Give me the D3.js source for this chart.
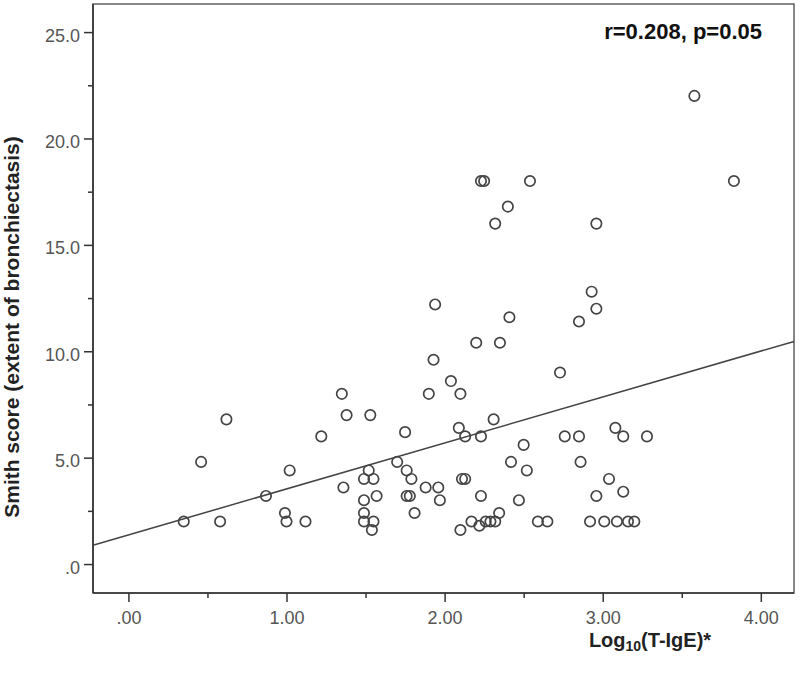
<!DOCTYPE html>
<html>
<head>
<meta charset="utf-8">
<style>
  body { margin: 0; background: #fff; }
  svg text { font-family: "Liberation Sans", Arial, sans-serif; }
</style>
</head>
<body>
<script src="https://cdn.jsdelivr.net/npm/d3@7"></script>
<script>
// values
var logIgE = [0.35, 0.46, 0.58, 0.62, 0.87, 0.99, 1.00, 1.02, 1.12, 1.22,
              1.35, 1.36, 1.38, 1.49, 1.49, 1.49, 1.49, 1.52, 1.53, 1.54,
              1.55, 1.55, 1.57, 1.70, 1.75, 1.76, 1.76, 1.78, 1.79, 1.81,
              1.88, 1.90, 1.93, 1.94, 1.96, 1.97, 2.04, 2.09, 2.10, 2.10,
              2.11, 2.13, 2.13, 2.17, 2.20, 2.22, 2.23, 2.23, 2.23, 2.25,
              2.26, 2.29, 2.31, 2.32, 2.32, 2.345, 2.35, 2.40, 2.41, 2.42,
              2.47, 2.50, 2.52, 2.54, 2.59, 2.65, 2.73, 2.76, 2.85, 2.85,
              2.86, 2.92, 2.93, 2.96, 2.96, 2.96, 3.01, 3.04, 3.08, 3.09,
              3.13, 3.13, 3.16, 3.20, 3.28, 3.58, 3.83];
var smithScore = [2.0, 4.8, 2.0, 6.8, 3.2, 2.4, 2.0, 4.4, 2.0, 6.0,
                  8.0, 3.6, 7.0, 4.0, 3.0, 2.4, 2.0, 4.4, 7.0, 1.6,
                  4.0, 2.0, 3.2, 4.8, 6.2, 4.4, 3.2, 3.2, 4.0, 2.4,
                  3.6, 8.0, 9.6, 12.2, 3.6, 3.0, 8.6, 6.4, 8.0, 1.6,
                  4.0, 4.0, 6.0, 2.0, 10.4, 1.8, 6.0, 3.2, 18.0, 18.0,
                  2.0, 2.0, 6.8, 2.0, 16.0, 2.4, 10.4, 16.8, 11.6, 4.8,
                  3.0, 5.6, 4.4, 18.0, 2.0, 2.0, 9.0, 6.0, 6.0, 11.4,
                  4.8, 2.0, 12.8, 12.0, 16.0, 3.2, 2.0, 4.0, 6.4, 2.0,
                  6.0, 3.4, 2.0, 2.0, 6.0, 22.0, 18.0];

var fitIntercept = 1.37, fitSlope = 2.16;
var statLabel = "r=0.208, p=0.05";

var xTicks = [0, 1, 2, 3, 4];
var xMinorTicks = [0.5, 1.5, 2.5, 3.5];
var yTicks = [0, 5, 10, 15, 20, 25];
var yMinorTicks = [2.5, 7.5, 12.5, 17.5, 22.5];

var width = 800, height = 686;
var plot = {left: 93, right: 794, top: 4, bottom: 593};

var svg = d3.select("body").append("svg")
    .attr("width", width)
    .attr("height", height);

var x = d3.scaleLinear().domain([-0.224, 4.21]).range([plot.left, plot.right]);
var y = d3.scaleLinear().domain([-1.36, 26.32]).range([plot.bottom, plot.top]);

// frame
svg.append("rect")
    .attr("x", plot.left).attr("y", plot.top)
    .attr("width", plot.right - plot.left)
    .attr("height", plot.bottom - plot.top)
    .style("fill", "none")
    .style("stroke", "#555")
    .style("stroke-width", 1.4);

function fmtY(d) { return d === 0 ? ".0" : d.toFixed(1); }
function fmtX(d) { return d === 0 ? ".00" : d.toFixed(2); }

// minor ticks
svg.append("g")
    .attr("transform", "translate(" + plot.left + ",0)")
    .call(d3.axisLeft(y).tickValues(yMinorTicks).tickSize(5).tickFormat(""));
svg.append("g")
    .attr("transform", "translate(0," + plot.bottom + ")")
    .call(d3.axisBottom(x).tickValues(xMinorTicks).tickSize(5).tickFormat(""));

var yAxis = svg.append("g")
    .attr("transform", "translate(" + plot.left + ",0)")
    .call(d3.axisLeft(y).tickValues(yTicks).tickSize(9).tickFormat(fmtY));
yAxis.selectAll("text").attr("x", -13).attr("dy", "0.5em");

var xAxis = svg.append("g")
    .attr("transform", "translate(0," + plot.bottom + ")")
    .call(d3.axisBottom(x).tickValues(xTicks).tickSize(9).tickFormat(fmtX));
xAxis.selectAll("text").attr("y", 31).attr("dy", 0);

svg.selectAll(".domain").remove();
svg.selectAll(".tick line").style("stroke", "#333").style("stroke-width", 1.5);
svg.selectAll(".tick text")
    .style("font-size", "18px")
    .style("fill", "#555");

// axis lines drawn on top of the frame
svg.append("line")
    .attr("x1", plot.left).attr("x2", plot.left)
    .attr("y1", plot.top).attr("y2", plot.bottom)
    .style("stroke", "#333").style("stroke-width", 1.6);
svg.append("line")
    .attr("x1", plot.left).attr("x2", plot.right)
    .attr("y1", plot.bottom).attr("y2", plot.bottom)
    .style("stroke", "#333").style("stroke-width", 1.6);

// fit line
var fitLine = d3.line()
    .x(function(d) { return x(d); })
    .y(function(d) { return y(fitIntercept + fitSlope * d); });
svg.append("path")
    .attr("d", fitLine(x.domain()))
    .style("fill", "none")
    .style("stroke", "#444")
    .style("stroke-width", 1.5);

// points
svg.append("g").selectAll("circle")
    .data(logIgE)
    .enter().append("circle")
    .attr("cx", function(d) { return x(d); })
    .attr("cy", function(d, i) { return y(smithScore[i]); })
    .attr("r", 5.2)
    .style("fill", "none")
    .style("stroke", "#444")
    .style("stroke-width", 1.7);

// titles
svg.append("text")
    .attr("transform", "translate(19,327) rotate(-90)")
    .attr("text-anchor", "middle")
    .style("font-size", "21px")
    .style("font-weight", "bold")
    .style("fill", "#222")
    .text("Smith score (extent of bronchiectasis)");

var xt = svg.append("text")
    .attr("x", 650).attr("y", 647)
    .attr("text-anchor", "middle")
    .style("font-size", "20px")
    .style("font-weight", "bold")
    .style("fill", "#222");
xt.append("tspan").text("Log");
xt.append("tspan").attr("dy", 4).style("font-size", "14px").text("10");
xt.append("tspan").attr("dy", -4).text("(T-IgE)*");

svg.append("text")
    .attr("x", 762).attr("y", 39)
    .attr("text-anchor", "end")
    .style("font-size", "22px")
    .style("font-weight", "bold")
    .style("fill", "#111")
    .text(statLabel);
</script>
</body>
</html>
